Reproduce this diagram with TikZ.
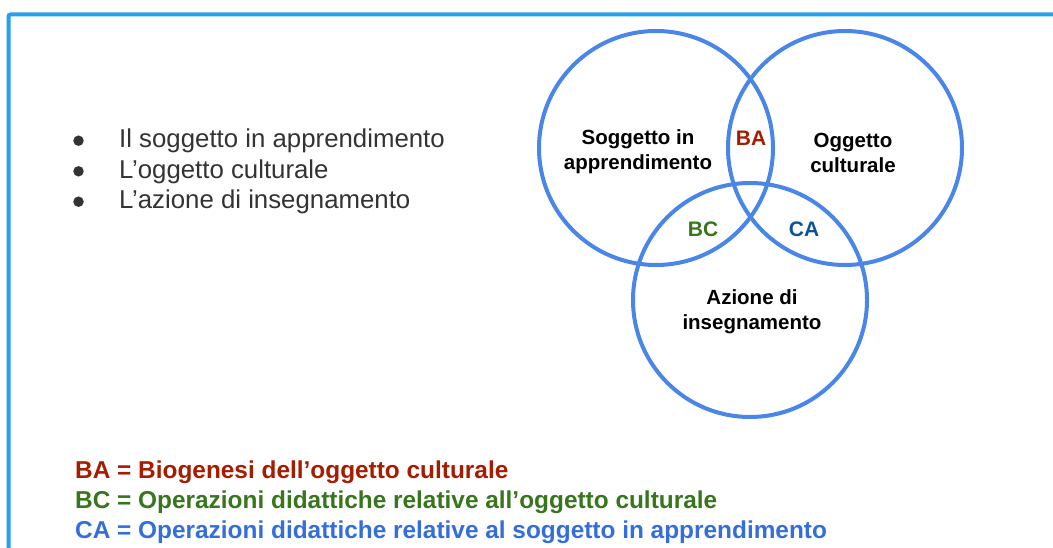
\documentclass[tikz,border=0pt]{standalone}
\usepackage{fontspec}
\setmainfont{Liberation Sans}
\definecolor{frameblue}{RGB}{38,160,235}
\definecolor{circblue}{RGB}{74,134,232}
\definecolor{txtgray}{RGB}{51,51,51}
\definecolor{bared}{RGB}{166,28,0}
\definecolor{bcgreen}{RGB}{56,118,29}
\definecolor{cablue}{RGB}{11,83,148}
\definecolor{legblue}{RGB}{52,110,220}
\begin{document}
\begin{tikzpicture}[x=1pt,y=-1pt,
  venn/.style={circle,draw=circblue,line width=4pt,minimum size=234pt,inner sep=0pt},
  lab/.style={font=\fontsize{20.5}{25}\selectfont\bfseries,align=center,text=black},
  tag/.style={font=\fontsize{21}{25}\selectfont\bfseries},
  item/.style={anchor=base west,inner sep=0pt,font=\fontsize{25.8}{30}\selectfont,text=txtgray},
  dot/.style={circle,fill=txtgray,minimum size=10.5pt,inner sep=0pt},
  leg/.style={anchor=base west,inner sep=0pt,font=\fontsize{24.4}{30}\selectfont\bfseries}]
\useasboundingbox (0,0) rectangle (1053,548);
\draw[frameblue,line width=4pt,rounded corners=2pt] (8.5,548) -- (8.5,14.5) -- (1053,14.5);
% circles
\node[venn] (sog) at (656,148) {};
\node[venn] (ogg) at (845,148) {};
\node[venn] (azi) at (750,300) {};
% circle labels
\node[lab] (sogl) at (638,152) {Soggetto in\\apprendimento};
\node[lab] (oggl) at (853,153) {Oggetto\\culturale};
\node[lab] (azil) at (752,312) {Azione di\\insegnamento};
\node[tag,text=bared] (ba) at (751,138) {BA};
\node[tag,text=bcgreen] (bc) at (703,229.5) {BC};
\node[tag,text=cablue] (ca) at (804,229.5) {CA};
% bullet list
\node[dot] (d1) at (78.5,140.7) {};
\node[dot] (d2) at (78.5,171.3) {};
\node[dot] (d3) at (78.5,201.7) {};
\node[item] (b1) at (119,148) {Il soggetto in apprendimento};
\node[item] (b2) at (119,178.5) {L’oggetto culturale};
\node[item] (b3) at (119,209) {L’azione di insegnamento};
% legend
\node[leg,text=bared] (l1) at (75,478) {BA = Biogenesi dell’oggetto culturale};
\node[leg,text=bcgreen] (l2) at (75,508) {BC = Operazioni didattiche relative all’oggetto culturale};
\node[leg,text=legblue] (l3) at (75,538) {CA = Operazioni didattiche relative al soggetto in apprendimento};
\end{tikzpicture}
\end{document}
